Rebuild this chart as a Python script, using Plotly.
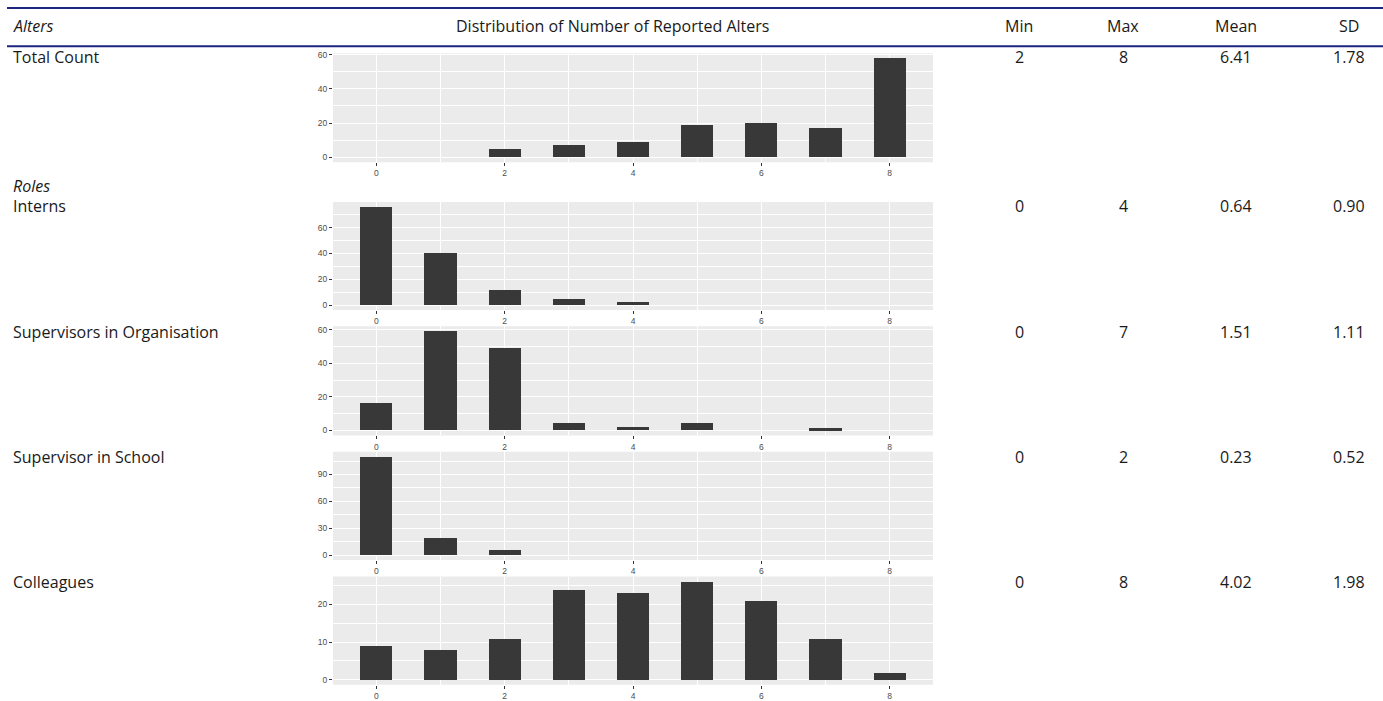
import plotly.graph_objects as go

# ---- data ----
alters_counts = [0, 1, 2, 3, 4, 5, 6, 7, 8]
row_labels = ["Total Count", "Interns", "Supervisors in Organisation", "Supervisor in School", "Colleagues"]
total_count = [0, 0, 5, 7, 9, 19, 20, 17, 58]
interns = [76, 40, 12, 5, 2, 0, 0, 0, 0]
supervisors_org = [16, 59, 49, 4, 2, 4, 0, 1, 0]
supervisor_school = [110, 19, 6, 0, 0, 0, 0, 0, 0]
colleagues = [9, 8, 11, 24, 23, 26, 21, 11, 2]
mins = ["2", "0", "0", "0", "0"]
maxs = ["8", "4", "7", "2", "8"]
means = ["6.41", "0.64", "1.51", "0.23", "4.02"]
sds = ["1.78", "0.90", "1.11", "0.52", "1.98"]
col_headers = ["Min", "Max", "Mean", "SD"]
y_ticks = [[0, 20, 40, 60], [0, 20, 40, 60], [0, 20, 40, 60], [0, 30, 60, 90], [0, 10, 20]]
x_ticks = [0, 2, 4, 6, 8]

series = [total_count, interns, supervisors_org, supervisor_school, colleagues]

W, H = 1383, 701
def fy(px):
    return 1 - px / H
def fx(px):
    return px / W

# panel pixel extents (top, bottom)
panels = [(51, 162), (202.5, 312.3), (329, 440), (456.5, 566.7), (583.5, 693.7)]
label_y = [55, 207, 335, 462, 589]
xdom = [fx(333), fx(933)]

fig = go.Figure()
FONT_T = "Open Sans"
FONT_A = "Liberation Sans"

for i, vals in enumerate(series):
    n = i + 1
    fig.add_trace(go.Bar(
        x=alters_counts, y=vals, width=0.5,
        marker=dict(color="#383838", line=dict(width=0)),
        xaxis=f"x{n}", yaxis=f"y{n}", showlegend=False, hoverinfo="x+y"))
    ymax = max(vals)
    pad = 0.05 * ymax
    step = y_ticks[i][1] - y_ticks[i][0]
    xa = dict(domain=xdom, range=[-0.675, 8.675], anchor=f"y{n}",
              tickvals=x_ticks, ticks="outside", ticklen=3, tickcolor="#333333",
              tickfont=dict(family=FONT_A, size=8.5, color="#4d4d4d"),
              showgrid=True, gridcolor="white", gridwidth=1.1,
              minor=dict(dtick=1, tick0=1, showgrid=True, gridcolor="white", gridwidth=0.5, ticks=""),
              zeroline=False, showline=False, fixedrange=True)
    ya = dict(domain=[fy(panels[i][1]), fy(panels[i][0])], range=[-pad, ymax + pad],
              anchor=f"x{n}", tickvals=y_ticks[i], ticks="outside", ticklen=3, tickcolor="#333333",
              tickfont=dict(family=FONT_A, size=8.5, color="#4d4d4d"),
              showgrid=True, gridcolor="white", gridwidth=1.1,
              minor=dict(dtick=step, tick0=step / 2, showgrid=True, gridcolor="white", gridwidth=0.5, ticks=""),
              zeroline=False, showline=False, fixedrange=True)
    fig.layout[f"xaxis{n}"] = xa
    fig.layout[f"yaxis{n}"] = ya
    fig.add_shape(type="rect", xref="paper", yref="paper", x0=xdom[0], x1=xdom[1],
                  y0=fy(panels[i][1]), y1=fy(panels[i][0]), fillcolor="#ebebeb",
                  line=dict(width=0), layer="below")

annotations = []
def txt(x, y, s, anchor="left", italic=False, size=16):
    t = f"<i>{s}</i>" if italic else s
    annotations.append(dict(x=fx(x), y=fy(y), xref="paper", yref="paper", text=t,
                            showarrow=False, xanchor=anchor, yanchor="middle",
                            font=dict(family=FONT_T, size=size, color="#1a1a1a")))

# header
txt(11, 23, "Alters", italic=True)
txt(612, 23, "Distribution of Number of Reported Alters", anchor="center")
col_x = [1019, 1123, 1236, 1349]
for cx, h in zip(col_x, col_headers):
    txt(cx, 23, h, anchor="center")

txt(11, 186, "Roles", italic=True)
for i, lab in enumerate(row_labels):
    txt(11, label_y[i], lab)
    for cx, v in zip(col_x, [mins[i], maxs[i], means[i], sds[i]]):
        txt(cx, label_y[i], v, anchor="center")

fig.update_layout(annotations=annotations)

for yy in [5, 44]:
    fig.add_shape(type="line", xref="paper", yref="paper", x0=fx(7), x1=1, y0=fy(yy), y1=fy(yy),
                  line=dict(color="#1c2580", width=2))

fig.update_layout(width=W, height=H, margin=dict(l=0, r=0, t=0, b=0),
                  paper_bgcolor="white", plot_bgcolor="rgba(0,0,0,0)", bargap=0)

fig.write_html("out.html", config={"displayModeBar": False},
               post_script="document.body.style.margin='0';document.body.style.overflow='hidden';")
